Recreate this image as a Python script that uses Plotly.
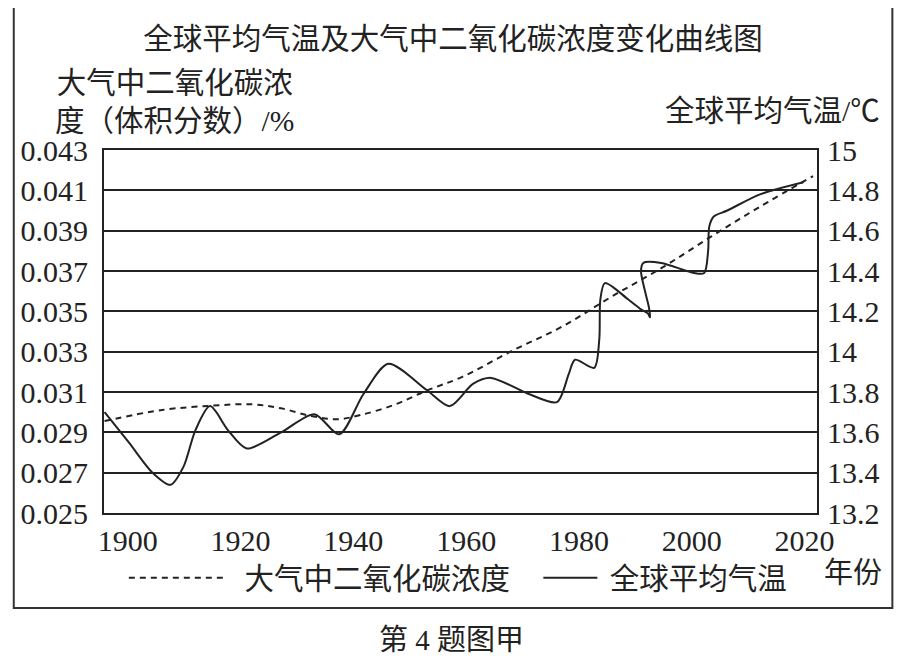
import plotly.graph_objects as go

# ---- data ----
co2_years = [1895.9, 1906.1, 1914.9, 1921.9, 1927.2, 1932.5, 1937.2, 1941.3,
             1947.2, 1953.0, 1959.4, 1968.2, 1977.0, 1985.8, 1994.6, 2003.4,
             2012.1, 2021.5]
co2_values = [0.02956, 0.03011, 0.03032, 0.03039, 0.03019, 0.02981, 0.02965,
              0.02986, 0.03036, 0.03107, 0.03176, 0.03305, 0.03424, 0.03573,
              0.03714, 0.03870, 0.04019, 0.04171]

temp_years = [1895.9, 1900.2, 1904.4, 1907.6, 1909.9, 1912.0, 1914.6, 1917.8,
              1921.1, 1927.2, 1933.1, 1937.5, 1941.8, 1946.2, 1953.0, 1957.1,
              1961.2, 1964.4, 1971.1, 1976.1, 1978.2, 1979.3, 1982.7, 1983.6,
              1983.8, 1984.6, 1988.7, 1991.0, 1992.2, 1992.6, 1992.4, 1991.8,
              1991.0, 1991.4, 1994.6, 2000.4, 2002.2, 2002.9, 2003.1, 2003.9,
              2006.3, 2012.1, 2019.8]
temp_values = [13.70, 13.55, 13.40, 13.34, 13.43, 13.61, 13.73, 13.61,
               13.52, 13.60, 13.69, 13.59, 13.79, 13.94, 13.81, 13.73,
               13.84, 13.87, 13.79, 13.75, 13.89, 13.96, 13.92, 14.06,
               14.26, 14.34, 14.26, 14.21, 14.19, 14.17, 14.22, 14.29,
               14.40, 14.44, 14.44, 14.39, 14.39, 14.50, 14.62, 14.67,
               14.70, 14.78, 14.84]

x_ticks = [1900, 1920, 1940, 1960, 1980, 2000, 2020]
left_ticks = [0.025, 0.027, 0.029, 0.031, 0.033, 0.035, 0.037, 0.039, 0.041, 0.043]
left_labels = ["0.025", "0.027", "0.029", "0.031", "0.033", "0.035", "0.037",
               "0.039", "0.041", "0.043"]
right_ticks = [13.2, 13.4, 13.6, 13.8, 14.0, 14.2, 14.4, 14.6, 14.8, 15.0]
right_labels = ["13.2", "13.4", "13.6", "13.8", "14", "14.2", "14.4", "14.6",
                "14.8", "15"]

title_text = "全球平均气温及大气中二氧化碳浓度变化曲线图"
co2_name = "大气中二氧化碳浓度"
temp_name = "全球平均气温"
left_title = "大气中二氧化碳浓<br>度（体积分数）/%"
right_title = "全球平均气温/℃"
x_title = "年份"
caption = "第 4 题图甲"

INK = "#222222"
FONT = "Liberation Serif, Noto Sans CJK SC, serif"
NB = "\u00a0"

# plot area in figure pixels
PL, PR, PT, PB = 90, 809, 142, 505
PW, PH = PR - PL, PB - PT


def px(xfig):
    return (xfig - PL) / PW


def py(yfig):
    return (PB - yfig) / PH


fig = go.Figure()
fig.add_trace(go.Scatter(
    x=co2_years, y=co2_values, name=NB + NB + co2_name, mode="lines",
    line=dict(color=INK, width=2, dash="6px,5px", shape="spline", smoothing=1.0),
    yaxis="y", legend="legend",
))
fig.add_trace(go.Scatter(
    x=temp_years, y=temp_values, name=NB + temp_name, mode="lines",
    line=dict(color=INK, width=2, shape="spline", smoothing=0.8),
    yaxis="y2", legend="legend2",
))

fig.update_layout(
    width=910, height=662, autosize=False,
    margin=dict(l=PL, r=910 - PR, t=PT, b=662 - PB, pad=0),
    paper_bgcolor="white", plot_bgcolor="white",
    font=dict(family=FONT, color=INK, size=29),
    title=dict(text=title_text, x=0.489, xanchor="center", y=1 - 31 / 662,
               yanchor="middle", font=dict(size=29.5, color=INK)),
    xaxis=dict(range=[1895.8, 2022.2], tickvals=x_ticks, showgrid=False,
               zeroline=False, showline=True, linecolor=INK, linewidth=2,
               mirror=True, ticks="", ticklabelstandoff=0,
               tickfont=dict(size=30)),
    yaxis=dict(range=[0.025, 0.043], tickvals=left_ticks, ticktext=left_labels,
               showgrid=True, gridcolor=INK, gridwidth=2, zeroline=False,
               showline=True, linecolor=INK, linewidth=2, ticks="",
               ticklabelstandoff=8, tickfont=dict(size=30)),
    yaxis2=dict(range=[13.2, 15.0], tickvals=right_ticks, ticktext=right_labels,
                overlaying="y", side="right", showgrid=False, zeroline=False,
                showline=True, linecolor=INK, linewidth=2, ticks="",
                ticklabelstandoff=2, tickfont=dict(size=30)),
    legend=dict(orientation="h", x=px(110), xanchor="left", y=py(570),
                yanchor="middle", font=dict(size=29.5, color=INK),
                itemwidth=96, bgcolor="rgba(0,0,0,0)"),
    legend2=dict(orientation="h", x=px(528), xanchor="left", y=py(570),
                 yanchor="middle", font=dict(size=29.5, color=INK),
                 itemwidth=54, bgcolor="rgba(0,0,0,0)"),
    showlegend=True,
)

fig.add_annotation(text=left_title, xref="paper", yref="paper",
                   x=px(161), y=py(94), showarrow=False,
                   xanchor="center", yanchor="middle", align="center",
                   font=dict(size=29.5, color=INK))
fig.add_annotation(text=right_title, xref="paper", yref="paper",
                   x=px(875), y=py(103), showarrow=False,
                   xanchor="right", yanchor="middle",
                   font=dict(size=29.5, color=INK))
fig.add_annotation(text=x_title, xref="paper", yref="paper",
                   x=px(845), y=py(565), showarrow=False,
                   xanchor="center", yanchor="middle",
                   font=dict(size=29, color=INK))
fig.add_annotation(text=caption, xref="paper", yref="paper",
                   x=px(440), y=py(632), showarrow=False,
                   xanchor="center", yanchor="middle",
                   font=dict(size=29, color=INK))

# outer frame around the figure body
fig.add_shape(type="rect", xref="paper", yref="paper",
              x0=px(-1), x1=px(885), y0=py(600), y1=py(-3),
              line=dict(color="#333333", width=2), layer="below")

fig.write_html("out.html")
